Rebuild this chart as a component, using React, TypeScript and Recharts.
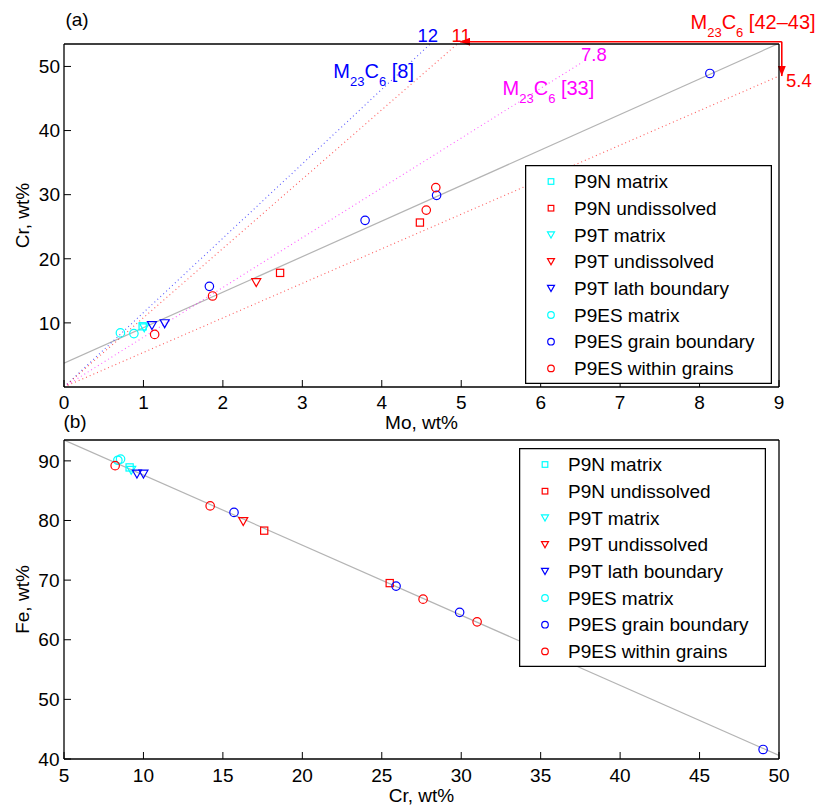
import React from 'react';
import { ScatterChart, Scatter, XAxis, YAxis, ReferenceLine, ReferenceDot, Legend } from 'recharts';

const FONT = '"Liberation Sans", Arial, Helvetica, sans-serif';

// ---------- series (shared by both panels) ----------
const seriesNames = [
  'P9N matrix',
  'P9N undissolved',
  'P9T matrix',
  'P9T undissolved',
  'P9T lath boundary',
  'P9ES matrix',
  'P9ES grain boundary',
  'P9ES within grains',
];
const seriesColors = ['#00ffff', '#ff0000', '#00ffff', '#ff0000', '#0000ff', '#00ffff', '#0000ff', '#ff0000'];
const seriesMarkers = ['square', 'square', 'triangle', 'triangle', 'triangle', 'circle', 'circle', 'circle'];

// ---------- panel (a): Mo (x) vs Cr (y) ----------
const aP9NMatrixMo = [0.99];
const aP9NMatrixCr = [9.47];
const aP9NUndissolvedMo = [2.72, 4.48];
const aP9NUndissolvedCr = [17.8, 25.65];
const aP9TMatrixMo = [1.01];
const aP9TMatrixCr = [9.27];
const aP9TUndissolvedMo = [2.42];
const aP9TUndissolvedCr = [16.3];
const aP9TLathMo = [1.107, 1.267];
const aP9TLathCr = [9.6, 9.9];
const aP9ESMatrixMo = [0.71, 0.88];
const aP9ESMatrixCr = [8.43, 8.33];
const aP9ESGrainMo = [1.83, 3.79, 4.69, 8.13];
const aP9ESGrainCr = [15.7, 26.0, 29.9, 48.9];
const aP9ESWithinMo = [1.141, 1.87, 4.56, 4.68];
const aP9ESWithinCr = [8.2, 14.2, 27.6, 31.1];

const aXTicks = [0, 1, 2, 3, 4, 5, 6, 7, 8, 9];
const aYTicks = [10, 20, 30, 40, 50];
const aXDomain = [0, 9];
const aYDomain = [0, 53.5];

// fit line (gray) in panel (a)
const aFitMo = [0, 9];
const aFitCr = [3.7, 53.6];

// Cr/Mo ratio guide lines from the origin (dotted)
const ratioEndMo = [4.61, 4.95, 6.53, 9];
const ratioEndCr = [53.5, 53.5, 50.7, 48.5];
const ratioColors = ['#0000ff', '#ff0000', '#ff00ff', '#ff0000'];

// annotations in panel (a)  (data coordinates of text anchors)
const ratioLabelText = ['12', '11', '7.8', '5.4'];
const ratioLabelMo = [4.58, 5.0, 6.67, 9.25];
const ratioLabelCr = [53.86, 53.86, 50.85, 46.8];
const ratioLabelColor = ['#0000ff', '#ff0000', '#ff00ff', '#ff0000'];

const m23Refs = ['[8]', '[33]', '[42\u201343]'];
const m23Mo = [3.39, 5.52, 7.886];
const m23Cr = [48.15, 45.55, 55.8];
const m23Color = ['#0000ff', '#ff00ff', '#ff0000'];

// red arrows in panel (a)
const arrowCornerMo = 9.035;
const arrowCornerCr = 53.86;
const arrowLeftTipMo = 4.985;
const arrowDownTipCr = 48.5;

// ---------- panel (b): Cr (x) vs Fe (y) ----------
const bP9NMatrixCr = [9.13];
const bP9NMatrixFe = [88.9];
const bP9NUndissolvedCr = [17.6, 25.5];
const bP9NUndissolvedFe = [78.3, 69.5];
const bP9TMatrixCr = [9.23];
const bP9TMatrixFe = [88.45];
const bP9TUndissolvedCr = [16.28];
const bP9TUndissolvedFe = [79.85];
const bP9TLathCr = [9.59, 10.0];
const bP9TLathFe = [87.8, 87.8];
const bP9ESMatrixCr = [8.39, 8.56];
const bP9ESMatrixFe = [90.1, 90.3];
const bP9ESGrainCr = [15.7, 25.9, 29.9, 49.0];
const bP9ESGrainFe = [81.35, 69.0, 64.6, 41.6];
const bP9ESWithinCr = [8.22, 14.2, 27.6, 31.0];
const bP9ESWithinFe = [89.2, 82.45, 66.8, 63.0];

const bXTicks = [5, 10, 15, 20, 25, 30, 35, 40, 45, 50];
const bYTicks = [40, 50, 60, 70, 80, 90];
const bXDomain = [5, 50];
const bYDomain = [40, 93.5];

const bFitCr = [5, 50];
const bFitFe = [93.5, 40.6];

// ---------- helpers ----------
const toPoints = (xs: number[], ys: number[]) => xs.map((x, i) => ({ x, y: ys[i] }));

const aSeries = [
  toPoints(aP9NMatrixMo, aP9NMatrixCr),
  toPoints(aP9NUndissolvedMo, aP9NUndissolvedCr),
  toPoints(aP9TMatrixMo, aP9TMatrixCr),
  toPoints(aP9TUndissolvedMo, aP9TUndissolvedCr),
  toPoints(aP9TLathMo, aP9TLathCr),
  toPoints(aP9ESMatrixMo, aP9ESMatrixCr),
  toPoints(aP9ESGrainMo, aP9ESGrainCr),
  toPoints(aP9ESWithinMo, aP9ESWithinCr),
];

const bSeries = [
  toPoints(bP9NMatrixCr, bP9NMatrixFe),
  toPoints(bP9NUndissolvedCr, bP9NUndissolvedFe),
  toPoints(bP9TMatrixCr, bP9TMatrixFe),
  toPoints(bP9TUndissolvedCr, bP9TUndissolvedFe),
  toPoints(bP9TLathCr, bP9TLathFe),
  toPoints(bP9ESMatrixCr, bP9ESMatrixFe),
  toPoints(bP9ESGrainCr, bP9ESGrainFe),
  toPoints(bP9ESWithinCr, bP9ESWithinFe),
];

function markerElement(kind: string, color: string, cx: number, cy: number, s: number) {
  const sw = 1.2;
  if (kind === 'circle') {
    return <circle cx={cx} cy={cy} r={s * 0.47} fill="none" stroke={color} strokeWidth={sw} />;
  }
  if (kind === 'square') {
    const h = s * 0.4;
    return <rect x={cx - h} y={cy - h} width={2 * h} height={2 * h} fill="none" stroke={color} strokeWidth={sw} />;
  }
  const hw = s * 0.5;
  return (
    <polygon
      points={`${cx - hw},${cy - s * 0.42} ${cx + hw},${cy - s * 0.42} ${cx},${cy + s * 0.46}`}
      fill="none"
      stroke={color}
      strokeWidth={sw}
      strokeLinejoin="miter"
    />
  );
}

const LegendBox = () => (
  <svg width={247} height={219} style={{ display: 'block' }}>
    <rect x={0.6} y={0.6} width={245.8} height={217.8} fill="#fff" stroke="#000" strokeWidth={1.3} />
    {seriesNames.map((n, i) => {
      const cy = 16.5 + i * 26.7;
      return (
        <g key={n}>
          {markerElement(seriesMarkers[i], seriesColors[i], 26, cy, 7)}
          <text x={49} y={cy + 6.7} fontSize={19} fontFamily={FONT} fill="#000">
            {n}
          </text>
        </g>
      );
    })}
  </svg>
);

const axisLineStyle = { stroke: '#000', strokeWidth: 1.3 };
const tickLineStyle = { stroke: '#000', strokeWidth: 1 };
const tickStyle = { fill: '#000', fontSize: 19, fontFamily: FONT };

const renderSeries = (data: { x: number; y: number }[][]) =>
  data.map((pts, i) => (
    <Scatter
      key={seriesNames[i]}
      name={seriesNames[i]}
      data={pts}
      fill={seriesColors[i]}
      isAnimationActive={false}
      shape={(p: any) => markerElement(seriesMarkers[i], seriesColors[i], p.cx, p.cy, 9)}
    />
  ));

const ratioLabel = (i: number) => (p: any) => {
  const vb = p.viewBox || {};
  const x = (vb.x || 0) + (vb.width || 0) / 2;
  const y = (vb.y || 0) + (vb.height || 0) / 2;
  return (
    <text x={x} y={y} fill={ratioLabelColor[i]} fontSize={18.5} fontFamily={FONT} textAnchor="middle">
      {ratioLabelText[i]}
    </text>
  );
};

const m23Label = (i: number) => (p: any) => {
  const vb = p.viewBox || {};
  const x = (vb.x || 0) + (vb.width || 0) / 2;
  const y = (vb.y || 0) + (vb.height || 0) / 2;
  return (
    <text x={x} y={y} fill={m23Color[i]} fontSize={20} fontFamily={FONT} textAnchor="start" style={{ whiteSpace: 'pre' }}>
      <tspan>M</tspan>
      <tspan fontSize={13} dy={8}>23</tspan>
      <tspan dy={-8}>C</tspan>
      <tspan fontSize={13} dy={8}>6</tspan>
      <tspan dy={-8}>{' ' + m23Refs[i]}</tspan>
    </text>
  );
};

const arrowShape = (p: any) => (
  <line x1={p.x1} y1={p.y1} x2={p.x2} y2={p.y2} stroke="#ff0000" strokeWidth={1.6} markerEnd="url(#arrowRed)" />
);

const PanelA = () => (
  <ScatterChart width={822} height={436} margin={{ top: 43, right: 42, bottom: 1, left: 14 }}>
    <XAxis
      type="number"
      dataKey="x"
      domain={aXDomain}
      ticks={aXTicks}
      allowDataOverflow
      interval={0}
      height={48}
      axisLine={axisLineStyle}
      tickLine={tickLineStyle}
      tickSize={-7}
      tickMargin={16}
      tick={tickStyle}
      label={{ value: 'Mo, wt%', position: 'insideBottom', offset: 6, fill: '#000', fontSize: 19, fontFamily: FONT }}
    />
    <XAxis
      type="number"
      xAxisId="top"
      orientation="top"
      domain={aXDomain}
      ticks={aXTicks}
      allowDataOverflow
      interval={0}
      height={1}
      axisLine={axisLineStyle}
      tickLine={tickLineStyle}
      tickSize={-7}
      tick={false}
    />
    <YAxis
      type="number"
      dataKey="y"
      domain={aYDomain}
      ticks={aYTicks}
      allowDataOverflow
      interval={0}
      width={50}
      axisLine={axisLineStyle}
      tickLine={tickLineStyle}
      tickSize={-7}
      tickMargin={11}
      tick={tickStyle}
      label={{
        value: 'Cr, wt%',
        angle: -90,
        position: 'insideLeft',
        offset: 8,
        fill: '#000',
        fontSize: 19,
        fontFamily: FONT,
        style: { textAnchor: 'middle' },
      }}
    />
    <YAxis
      type="number"
      yAxisId="right"
      orientation="right"
      domain={aYDomain}
      ticks={aYTicks}
      allowDataOverflow
      interval={0}
      width={1}
      axisLine={axisLineStyle}
      tickLine={tickLineStyle}
      tickSize={-7}
      tick={false}
    />
    <ReferenceLine
      segment={[
        { x: aFitMo[0], y: aFitCr[0] },
        { x: aFitMo[1], y: aFitCr[1] },
      ]}
      stroke="#b4b4b4"
      strokeWidth={1.2}
      ifOverflow="hidden"
    />
    {ratioEndMo.map((m, i) => (
      <ReferenceLine
        key={'ratio' + i}
        segment={[
          { x: 0, y: 0 },
          { x: m, y: ratioEndCr[i] },
        ]}
        stroke={ratioColors[i]}
        strokeOpacity={0.65}
        strokeWidth={1.1}
        strokeDasharray="1 3"
        ifOverflow="hidden"
      />
    ))}
    {renderSeries(aSeries)}
    <ReferenceLine
      segment={[
        { x: arrowCornerMo, y: arrowCornerCr },
        { x: arrowLeftTipMo, y: arrowCornerCr },
      ]}
      ifOverflow="visible"
      shape={arrowShape}
    />
    <ReferenceLine
      segment={[
        { x: arrowCornerMo, y: arrowCornerCr },
        { x: arrowCornerMo, y: arrowDownTipCr },
      ]}
      ifOverflow="visible"
      shape={arrowShape}
    />
    {ratioLabelText.map((t, i) => (
      <ReferenceDot
        key={'rl' + i}
        x={ratioLabelMo[i]}
        y={ratioLabelCr[i]}
        r={0}
        fill="none"
        stroke="none"
        ifOverflow="visible"
        label={{ content: ratioLabel(i) }}
      />
    ))}
    {m23Refs.map((t, i) => (
      <ReferenceDot
        key={'m23' + i}
        x={m23Mo[i]}
        y={m23Cr[i]}
        r={0}
        fill="none"
        stroke="none"
        ifOverflow="visible"
        label={{ content: m23Label(i) }}
      />
    ))}
    <Legend
      layout="vertical"
      align="center"
      verticalAlign="middle"
      wrapperStyle={{ left: 525, top: 165, width: 247, height: 219 }}
      content={() => <LegendBox />}
    />
  </ScatterChart>
);

const PanelB = () => (
  <ScatterChart width={822} height={410} margin={{ top: 39, right: 42, bottom: 1, left: 14 }}>
    <XAxis
      type="number"
      dataKey="x"
      domain={bXDomain}
      ticks={bXTicks}
      allowDataOverflow
      interval={0}
      height={50}
      axisLine={axisLineStyle}
      tickLine={tickLineStyle}
      tickSize={-7}
      tickMargin={17}
      tick={tickStyle}
      label={{ value: 'Cr, wt%', position: 'insideBottom', offset: 7, fill: '#000', fontSize: 19, fontFamily: FONT }}
    />
    <XAxis
      type="number"
      xAxisId="top"
      orientation="top"
      domain={bXDomain}
      ticks={bXTicks}
      allowDataOverflow
      interval={0}
      height={1}
      axisLine={axisLineStyle}
      tickLine={tickLineStyle}
      tickSize={-7}
      tick={false}
    />
    <YAxis
      type="number"
      dataKey="y"
      domain={bYDomain}
      ticks={bYTicks}
      allowDataOverflow
      interval={0}
      width={50}
      axisLine={axisLineStyle}
      tickLine={tickLineStyle}
      tickSize={-7}
      tickMargin={11.5}
      tick={tickStyle}
      label={{
        value: 'Fe, wt%',
        angle: -90,
        position: 'insideLeft',
        offset: 8,
        fill: '#000',
        fontSize: 19,
        fontFamily: FONT,
        style: { textAnchor: 'middle' },
      }}
    />
    <YAxis
      type="number"
      yAxisId="right"
      orientation="right"
      domain={bYDomain}
      ticks={bYTicks}
      allowDataOverflow
      interval={0}
      width={1}
      axisLine={axisLineStyle}
      tickLine={tickLineStyle}
      tickSize={-7}
      tick={false}
    />
    <ReferenceLine
      segment={[
        { x: bFitCr[0], y: bFitFe[0] },
        { x: bFitCr[1], y: bFitFe[1] },
      ]}
      stroke="#b4b4b4"
      strokeWidth={1.2}
      ifOverflow="hidden"
    />
    {renderSeries(bSeries)}
    <Legend
      layout="vertical"
      align="center"
      verticalAlign="middle"
      wrapperStyle={{ left: 519, top: 48, width: 247, height: 219 }}
      content={() => <LegendBox />}
    />
  </ScatterChart>
);

export default function App() {
  return (
    <div style={{ position: 'absolute', left: 0, top: 0, width: 822, height: 810, background: '#fff' }}>
      <svg width={0} height={0} style={{ position: 'absolute' }}>
        <defs>
          <marker id="arrowRed" markerUnits="userSpaceOnUse" markerWidth={11} markerHeight={8} refX={10} refY={4} orient="auto">
            <path d="M0,0 L10,4 L0,8 z" fill="#ff0000" />
          </marker>
        </defs>
      </svg>
      <div style={{ position: 'absolute', left: 0, top: 0 }}>
        <PanelA />
      </div>
      <div style={{ position: 'absolute', left: 0, top: 400 }}>
        <PanelB />
      </div>
      <svg width={822} height={810} style={{ position: 'absolute', left: 0, top: 0, pointerEvents: 'none' }}>
        <text x={77} y={26} textAnchor="middle" fontSize={19} fontFamily={FONT} fill="#000">
          (a)
        </text>
        <text x={75} y={428} textAnchor="middle" fontSize={19} fontFamily={FONT} fill="#000">
          (b)
        </text>
      </svg>
    </div>
  );
}
